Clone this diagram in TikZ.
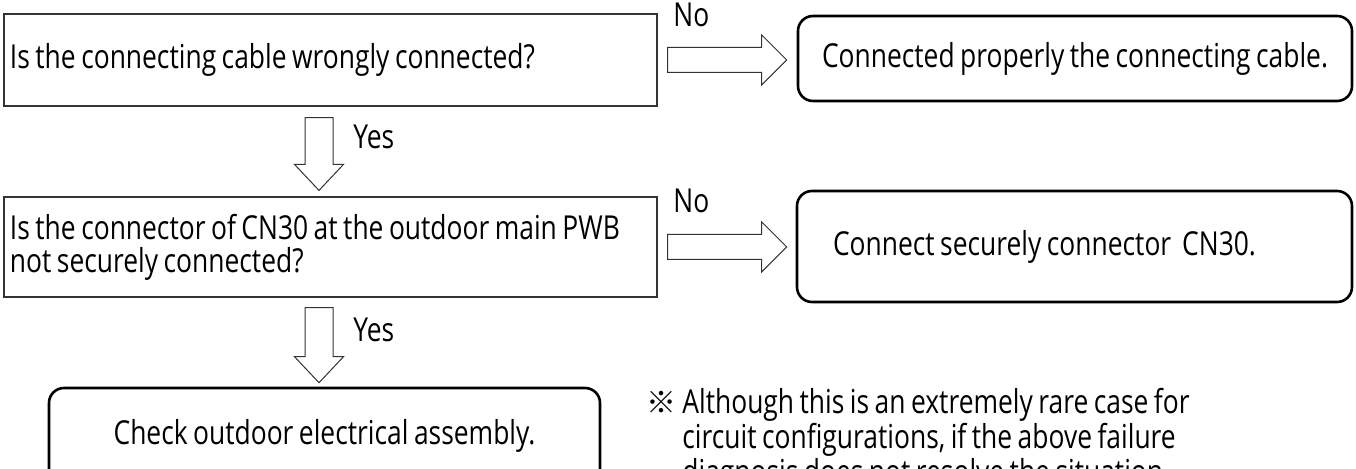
\documentclass[tikz,border=0pt]{standalone}
\usepackage{fontspec}
\setmainfont[FakeStretch=0.8, WordSpace=0.8]{Open Sans}
\newfontfamily\marksym{Noto Sans CJK JP}
\usetikzlibrary{calc}

\begin{document}
\begin{tikzpicture}[
        x=0.5pt, y=-0.5pt,
        every node/.style={font=\fontsize{16.5pt}{16.5pt}\selectfont, inner sep=0pt},
        qbox/.style={draw=black!80, line width=0.6pt, minimum width=326.5pt,
                     inner xsep=3pt, text width=320.5pt, align=flush left},
        abox/.style={draw, line width=1.3pt, rounded corners=7.5pt, minimum width=277pt},
        lbl/.style={anchor=west},
        rarr/.style={draw=black!80, line width=0.5pt, to path={
            let \p1=(\tikztostart), \p2=(\tikztotarget) in
            (\x1,\y1-6.25pt) -- (\x2-12.5pt,\y1-6.25pt) -- (\x2-12.5pt,\y1-12.5pt) -- (\x2,\y1)
            -- (\x2-12.5pt,\y1+12.5pt) -- (\x2-12.5pt,\y1+6.25pt) -- (\x1,\y1+6.25pt) -- cycle}},
        darr/.style={draw=black!80, line width=0.5pt, to path={
            let \p1=(\tikztostart), \p2=(\tikztotarget) in
            (\x1-7pt,\y1) -- (\x1-7pt,\y2+13pt) -- (\x1-12.25pt,\y2+13pt) -- (\x1,\y2)
            -- (\x1+12.25pt,\y2+13pt) -- (\x1+7pt,\y2+13pt) -- (\x1+7pt,\y1) -- cycle}}
    ]
        \useasboundingbox (0,0) rectangle (1356,469);
        \clip (0,0) rectangle (1356,469);

        % questions
        \node[qbox, minimum height=46pt] (q1) at (330.5,60) {Is the connecting cable wrongly connected?};
        \node[qbox, minimum height=50pt] (q2) at (330.5,247)
            {Is the connector of CN30 at the outdoor main PWB\\not securely connected?};

        % actions
        \node[abox, minimum height=42.5pt, align=center] (a1) at (1075,58.5)
            {Connected properly the connecting cable.};
        \node[abox, minimum height=55.5pt, inner xsep=18pt, text width=241.5pt, align=flush left] (a2) at (1074.5,246.5)
            {Connect securely connector~ CN30.};
        \node[abox, minimum height=48pt, minimum width=275.5pt, align=center] (a3) at (324.5,436)
            {Check outdoor electrical assembly.};

        % flow
        \draw[rarr] ([xshift=5pt]q1.east) to ([xshift=-5pt]a1.west |- q1.east);
        \draw[rarr] ([xshift=5pt]q2.east) to ([xshift=-4.5pt]a2.west |- q2.east);
        \draw[darr] ([shift={(-11.5,11)}]q1.south) to ([shift={(-11.5,-6)}]q2.north);
        \draw[darr] ([shift={(-11.5,10)}]q2.south) to ([shift={(-5.5,-4)}]a3.north);

        \node[lbl] (no1)  at (673,15)  {No};
        \node[lbl] (no2)  at (673,201) {No};
        \node[lbl] (yes1) at (353,137) {Yes};
        \node[lbl] (yes2) at (353,330) {Yes};

        \node[anchor=north west, align=flush left, font=\fontsize{16.5pt}{14.5pt}\selectfont] (note) at (646,388)
            {\makebox[18pt][l]{\marksym\fontsize{15pt}{15pt}\selectfont ※}Although this is an extremely rare case for\\
             \hspace*{18pt}circuit configurations, if the above failure\\
             \hspace*{18pt}diagnosis does not resolve the situation};
\end{tikzpicture}
\end{document}
